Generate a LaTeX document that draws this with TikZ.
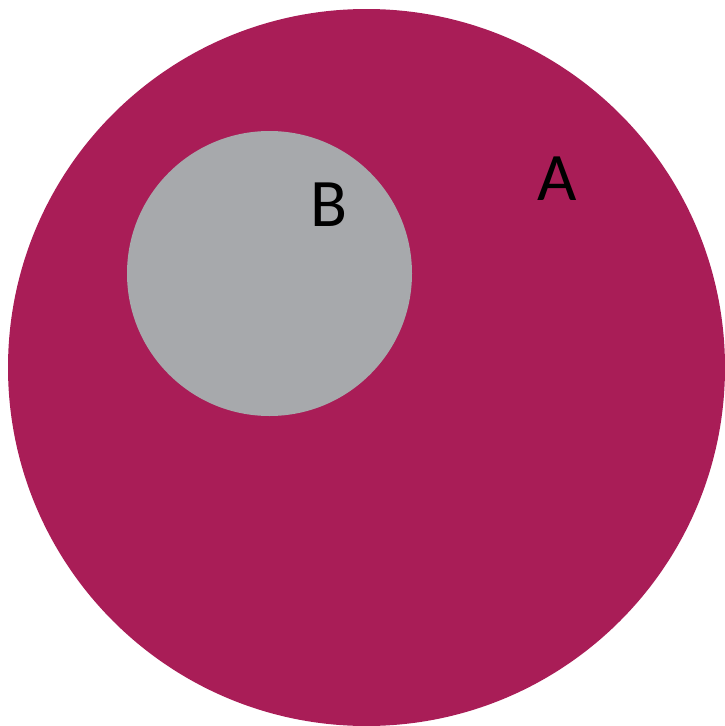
\documentclass[tikz,border=0pt]{standalone}
\usepackage{fontspec}
\setmainfont{Carlito}
\usetikzlibrary{positioning}
\definecolor{setacolor}{RGB}{169,29,87}
\definecolor{setbcolor}{RGB}{167,169,172}

\begin{document}
\begin{tikzpicture}[x=1pt, y=-1pt,
    setlabel/.style={font=\fontsize{68}{80}\selectfont, text=black, inner sep=0pt}]
    % Frame
    \useasboundingbox (0,0) rectangle (725,726);

    % Set A (outer)
    \fill[setacolor] (366.5,367.5) circle (358.5);

    % Set B (inner)
    \fill[setbcolor] (269.5,273.5) circle (142.5);

    % Labels
    \node[setlabel] (labelB) at (328.5,205) {B};
    \node[setlabel] (labelA) at (557,178.5) {A};
\end{tikzpicture}
\end{document}
